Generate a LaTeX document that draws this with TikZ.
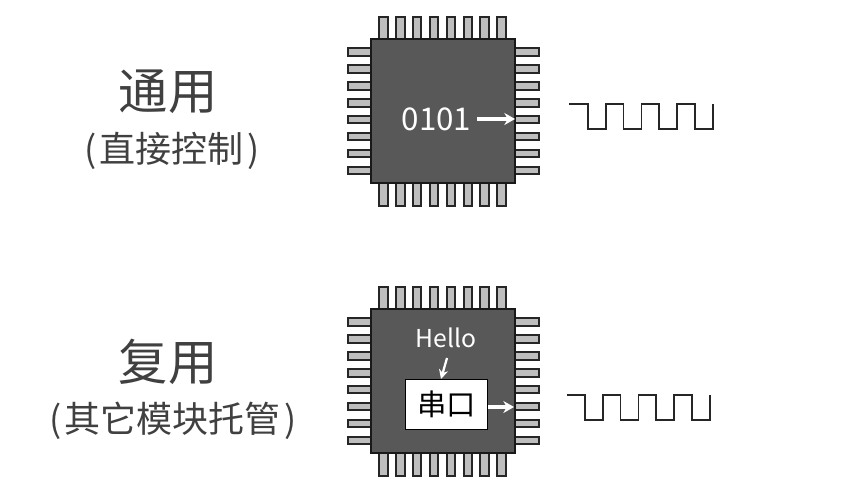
\documentclass[tikz,border=0pt]{standalone}
\usepackage{fontspec}
\setmainfont{Noto Sans CJK SC}
\usetikzlibrary{arrows.meta}
\definecolor{chipgray}{HTML}{585858}
\definecolor{pingray}{HTML}{BEBEBE}
\definecolor{textgray}{HTML}{404040}
\tikzset{
  chipbody/.style={draw=black!90, fill=chipgray, line width=1.3pt, minimum size=108pt, inner sep=0pt},
  pinbar/.style={draw=black!85, fill=pingray, line width=1.5pt},
  waveline/.style={draw=black!85, line width=1.3pt},
  whitearrow/.style={draw=white, line width=3pt, -{Stealth[length=8pt,width=9pt]}},
  bigtitle/.style={text=textgray, font=\fontsize{37}{42}\selectfont},
  subtitle/.style={text=textgray, font=\fontsize{27}{30}\selectfont}
}
\begin{document}
\begin{tikzpicture}[x=0.75pt, y=-0.75pt]
  \useasboundingbox (0,0) rectangle (843,483);
  % Two chips, the lower one sits 270 further down
  \foreach \dy in {0,270} {
    \foreach \k in {0,...,7} {
      \draw[pinbar] (379+16.9*\k, 17+\dy) rectangle ++(8.6,24);
      \draw[pinbar] (379+16.9*\k, 182+\dy) rectangle ++(8.6,24);
      \draw[pinbar] (348, 48.3+16.9*\k+\dy) rectangle ++(24,7.5);
      \draw[pinbar] (514.5, 48.3+16.9*\k+\dy) rectangle ++(24,7.5);
    }
  }
  \node[chipbody] (chipA) at (443,111) {};
  \node[chipbody] (chipB) at (443,381) {};

  % Left labels
  \node[bigtitle] (genTitle) at (168,92) {通用};
  \node[subtitle] (genSub) at (172,151) {(\hspace{2.5pt}直接控制\hspace{2.5pt})};
  \node[bigtitle] (altTitle) at (168,362) {复用};
  \node[subtitle] (altSub) at (173,421) {(\hspace{2.5pt}其它模块托管\hspace{2.5pt})};

  % Upper chip content
  \node[text=white, font=\fontsize{23.5}{28}\selectfont] (bits) at (436.5,119) {0101};
  \coordinate (bitsFrom) at (477,119);
  \coordinate (pinA) at (515,119);
  \draw[whitearrow] (bitsFrom) -- (pinA);

  % Lower chip content
  \node[text=white, font=\fontsize{18.5}{20}\selectfont] (hello) at (446,338) {Hello};
  \node[draw=black, fill=white, line width=0.9pt, minimum width=62pt, minimum height=38pt, inner sep=0pt,
    font=\fontsize{22}{24}\selectfont] (uart) at (446.5,404.5) {串口};
  \coordinate (helloFrom) at (447,358);
  \coordinate (uartTop) at (441,379);
  \draw[draw=white, line width=1.7pt, -{Stealth[length=7pt,width=7pt]}] (helloFrom) -- (uartTop);
  \coordinate (uartFrom) at (488,407);
  \coordinate (pinB) at (514,407);
  \draw[whitearrow] (uartFrom) -- (pinB);

  % Square waves
  \draw[waveline] (569,104) -- ++(18.7,0) -- ++(0,25.3) foreach \k in {1,2,3,4} {
    -- ++(18,0) -- ++(0,-25.3) \ifnum\k<4 -- ++(17.7,0) -- ++(0,25.3) \fi
  };
  \draw[waveline] (567,394.7) -- ++(17.7,0) -- ++(0,25.3) foreach \k in {1,2,3,4} {
    -- ++(18,0) -- ++(0,-25.3) \ifnum\k<4 -- ++(17.7,0) -- ++(0,25.3) \fi
  };
\end{tikzpicture}
\end{document}
